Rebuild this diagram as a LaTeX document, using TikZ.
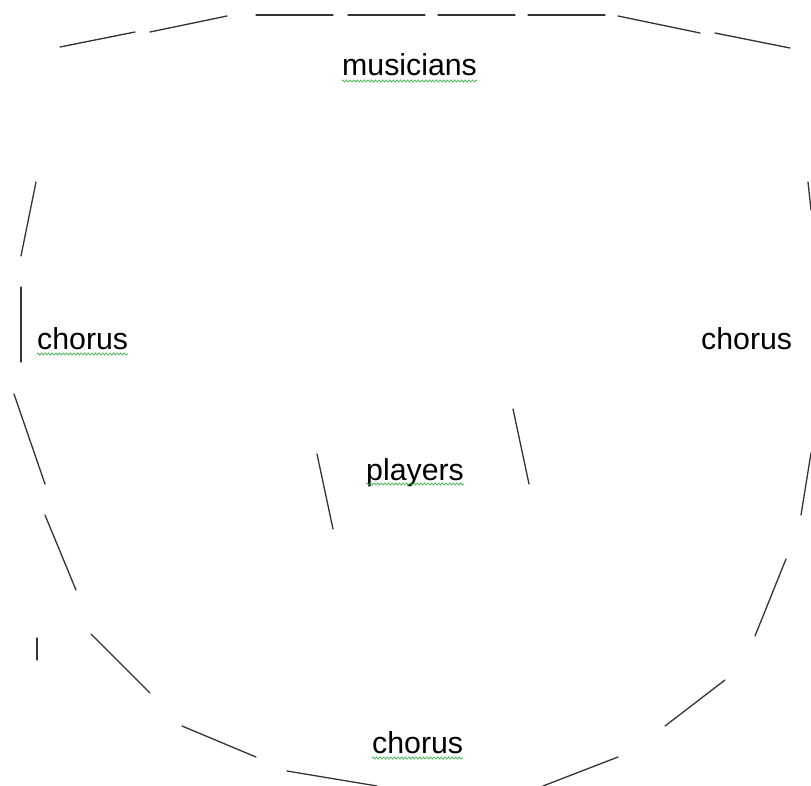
\documentclass[tikz,border=0pt]{standalone}
\usepackage{fontspec}
\setmainfont{Liberation Sans}
\usetikzlibrary{decorations.pathmorphing}
\definecolor{squiggreen}{HTML}{3CB44B}
\tikzset{
  seg/.style={line width=1.3pt, draw=black!80, line cap=round},
  lbl/.style={anchor=base west, inner sep=0pt, font=\fontsize{30.3}{35}\selectfont, text=black},
  squig/.style={draw=squiggreen, line width=0.7pt, decorate, decoration={zigzag, segment length=3.6pt, amplitude=1.1pt}}
}
\begin{document}
\begin{tikzpicture}[x=1pt,y=-1pt]
\useasboundingbox (0,0) rectangle (811,786);
% top arc
\draw[seg] (60,47) -- (135,32);
\draw[seg] (150,32) -- (227,16);
\draw[seg] (256,15) -- (333,15);
\draw[seg] (348,15) -- (425,15);
\draw[seg] (438,15) -- (515,15);
\draw[seg] (528,15) -- (605,15);
\draw[seg] (618,16) -- (700,33);
\draw[seg] (715,33) -- (790,48);
% left side
\draw[seg] (36,182) -- (21,256);
\draw[seg] (21,287) -- (21,362);
\draw[seg] (14,394) -- (45,484);
\draw[seg] (45,515) -- (76,590);
\draw[seg] (37,638) -- (37,660);
\draw[seg] (91,634) -- (150,693);
\draw[seg] (182,726) -- (256,757);
\draw[seg] (287,771) -- (377,786);
% right side
\draw[seg] (543,786) -- (618,757);
\draw[seg] (665,726) -- (725,680);
\draw[seg] (755,636) -- (786,559);
\draw[seg] (801,515) -- (811,453);
\draw[seg] (808,182) -- (811,210);
% centre
\draw[seg] (317,454) -- (333,529);
\draw[seg] (513,409) -- (529,484);
% labels
\node[lbl] (mus) at (342,76) {musicians};
\node[lbl] (chl) at (37,349) {chorus};
\node[lbl] (chr) at (701,349) {chorus};
\node[lbl] (pla) at (366,480) {players};
\node[lbl] (chb) at (372,753) {chorus};
% spell-check underlines
\draw[squig] ([yshift=-5pt]mus.base west) -- ([yshift=-5pt]mus.base east);
\draw[squig] ([yshift=-5pt]chl.base west) -- ([yshift=-5pt]chl.base east);
\draw[squig] ([yshift=-4pt]pla.base west) -- ([yshift=-4pt]pla.base east);
\draw[squig] ([yshift=-5pt]chb.base west) -- ([yshift=-5pt]chb.base east);
\end{tikzpicture}
\end{document}
